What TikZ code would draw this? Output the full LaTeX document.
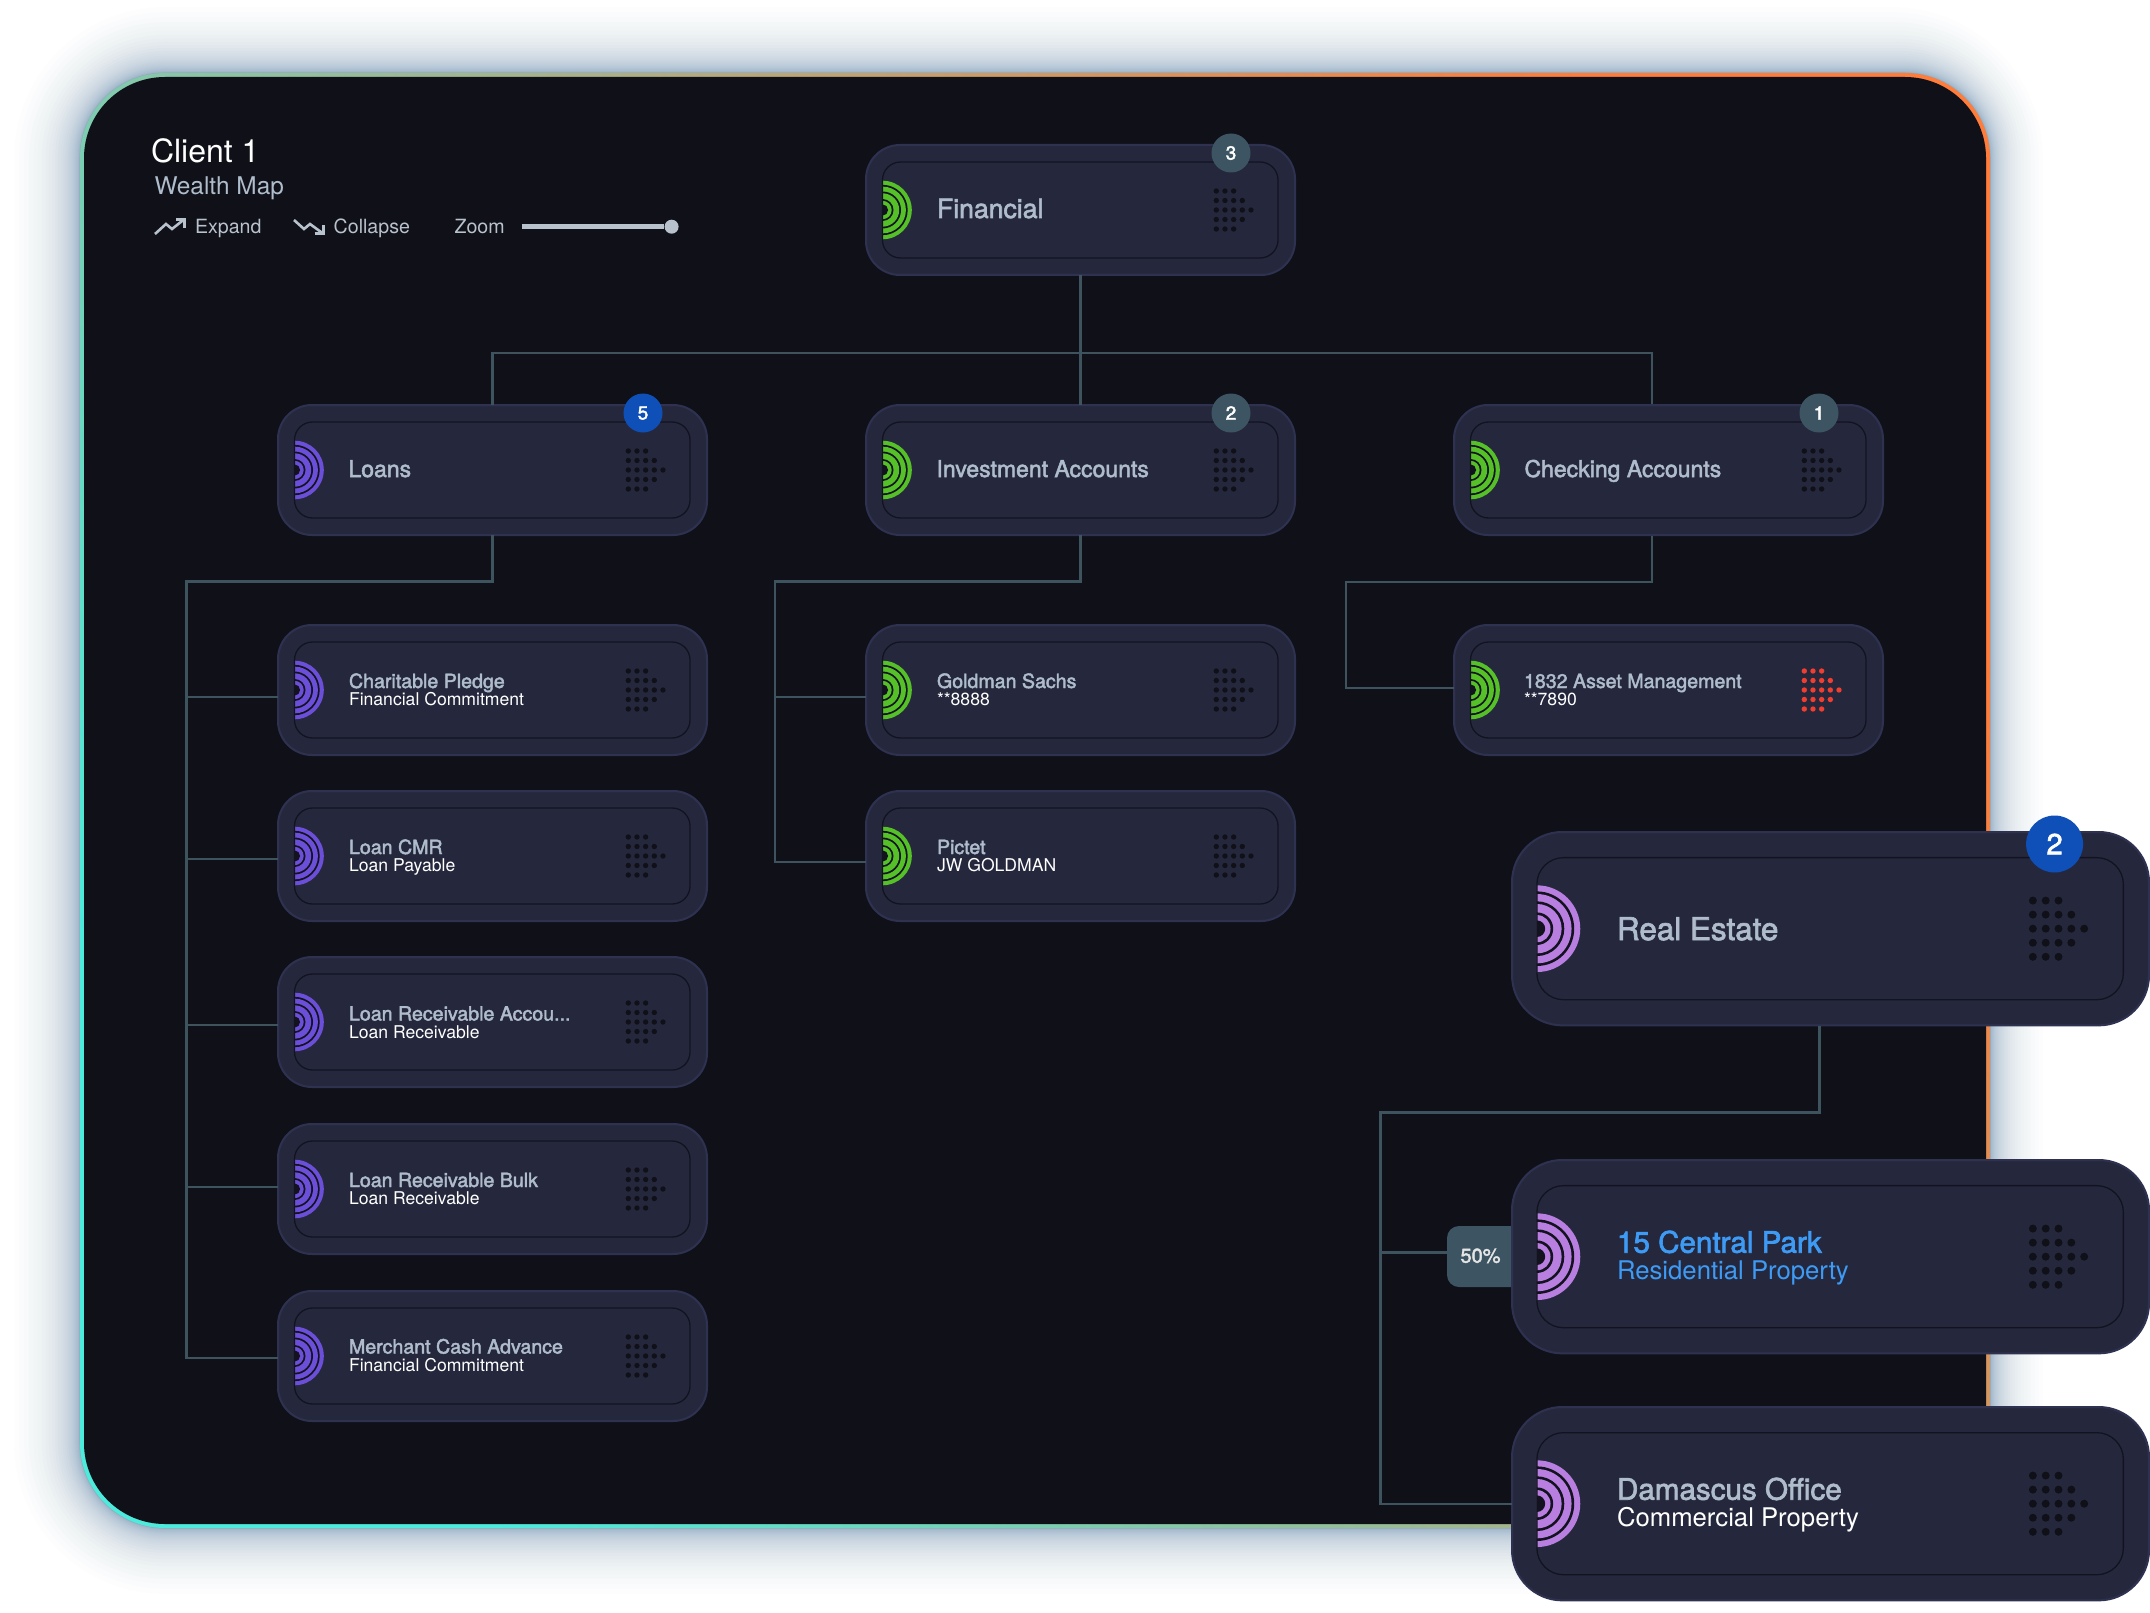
\documentclass[tikz,border=0pt]{standalone}
\usepackage{fontspec}
\setmainfont{TeX Gyre Heros}
\newfontfamily\medfont[FakeBold=2.2]{TeX Gyre Heros}
\usetikzlibrary{calc}
\definecolor{panelbg}{HTML}{0F1018}
\definecolor{cardbg}{HTML}{25283D}
\definecolor{cardedge}{HTML}{2E3250}
\definecolor{innerline}{HTML}{12131F}
\definecolor{linkc}{HTML}{3D535E}
\definecolor{badgec}{HTML}{3D5562}
\definecolor{bluebadge}{HTML}{0F4FB8}
\definecolor{titlec}{HTML}{AEBCCB}
\definecolor{greenc}{HTML}{55C027}
\definecolor{violetc}{HTML}{6B4FD8}
\definecolor{lilacc}{HTML}{B87FE0}
\definecolor{redc}{HTML}{F03E30}
\definecolor{dotc}{HTML}{0F1018}
\definecolor{glowc}{HTML}{6F97B2}
\definecolor{sky}{HTML}{3E9BF5}
\definecolor{greyc}{HTML}{B8C2CC}
\definecolor{borderA}{HTML}{4CEBDC}
\definecolor{borderB}{HTML}{ADB993}
\definecolor{borderC}{HTML}{FF7C3A}
\tikzset{
  x=1pt,y=-1pt,
  link/.style={draw=linkc,line width=2.3pt},
  txt/.style={inner sep=0pt,outer sep=0pt,anchor=base west},
  lonetitle/.style={txt,text=titlec,font=\medfont\fontsize{23}{23}\selectfont},
  lowtitle/.style={txt,text=titlec,font=\medfont\fontsize{19.6}{20}\selectfont},
  lowsub/.style={txt,text=white,font=\fontsize{17.6}{18}\selectfont},
  bigtitle/.style={txt,text=titlec,font=\medfont\fontsize{29.6}{30}\selectfont},
  bigsub/.style={txt,text=white,font=\fontsize{25.7}{26}\selectfont},
  headtool/.style={txt,text=greyc,font=\fontsize{19.6}{20}\selectfont},
  toolicon/.style={draw=greyc,line width=2.6pt,line join=miter},
  badgesmall/.style={circle,fill=#1,minimum size=39pt,inner sep=0pt,text=white,font=\medfont\fontsize{19}{19}\selectfont},
  badgebig/.style={circle,fill=#1,minimum size=57pt,inner sep=0pt,text=white,font=\medfont\fontsize{29}{29}\selectfont},
}
% \card{name}{left}{top}{width}{scale}{icon colour}{dot colour}
\newcommand{\card}[7]{%
  \node[draw=cardedge,line width=2pt,fill=cardbg,rounded corners=#5*34pt,outer sep=0pt,
    minimum width=#4pt-2pt,minimum height=#5*132pt-2pt,inner sep=0pt,anchor=north west]
    (#1) at (#2+1,#3+1) {};
  \begin{scope}[shift={(#2,#3)}]
    \begin{scope}
      \clip (#5*17.5,#5*20) rectangle (#5*60,#5*112);
      \foreach \r/\c in {29.3/#6,25.2/innerline,23.4/#6,18.5/innerline,16.7/#6,11/innerline,9.2/#6,5.6/innerline}{
        \fill[\c] (#5*17.5,#5*66) circle[radius=#5*\r];
      }
    \end{scope}
    \draw[innerline,line width=1.3pt,rounded corners=#5*18pt]
      (#5*17.5,#5*18) rectangle (#4-#5*18,#5*114);
    \begin{scope}[xshift=#5*4pt-4pt,scale=#5]
      \foreach \i/\j in {0/-2,1/-2,2/-2,0/-1,1/-1,2/-1,3/-1,0/0,1/0,2/0,3/0,4/0,0/1,1/1,2/1,3/1,0/2,1/2,2/2}{
        \fill[#7] (351.3+8.67*\i,66+9.5*\j) circle[radius=2.7];
      }
    \end{scope}
  \end{scope}
}
\begin{document}
\begin{tikzpicture}
\useasboundingbox (0,0) rectangle (2150,1613);
\fill[white] (0,0) rectangle (2150,1613);
% glow
\foreach \i in {36,35,...,1}{
  \pgfmathsetmacro{\d}{66*(\i/36)*(\i/36)*(\i/36)}
  \pgfmathsetmacro{\rr}{85+\d}
  \pgfmathsetmacro{\op}{0.065-0.052*\i/36}
  \fill[glowc,fill opacity=\op,rounded corners=\rr pt]
    (80-\d,73-\d) rectangle (1990+0.8*\d,1528+\d);
}
% panel with gradient border
\shade[left color=borderA, middle color=borderB, right color=borderC, shading angle=125,rounded corners=85pt] (80,73) rectangle (1990,1528);
\fill[panelbg,rounded corners=81pt] (84,77) rectangle (1986,1524);
% header
\node[txt,text=white,font=\fontsize{32}{32}\selectfont] (client) at (151,163) {Client 1};
\node[txt,text=titlec,font=\fontsize{24.4}{24}\selectfont] (wealth) at (154.6,195) {Wealth Map};
\draw[toolicon] (155,234) -- (166,224) -- (172,229) -- (184,219.5);
\draw[toolicon] (176,219.5) -- (184.5,219.5) -- (184.5,228);
\node[headtool] (expand) at (195,233.5) {Expand};
\draw[toolicon] (294,220) -- (304,229) -- (310,224) -- (323,233.5);
\draw[toolicon] (314.5,233.5) -- (323.5,233.5) -- (323.5,225);
\node[headtool] (collapse) at (333.7,233.5) {Collapse};
\node[headtool] (zoom) at (454.6,233.5) {Zoom};
\node[circle,fill=greyc,minimum size=14pt,inner sep=0pt] (knob) at (671.6,226.7) {};
\coordinate (slidestart) at (522,226.7);
\draw[draw=greyc,line width=5pt] (slidestart) -- (knob);
% cards
\card{fin}{865}{144}{431}{1}{greenc}{dotc}
\card{loans}{277}{404}{431}{1}{violetc}{dotc}
\card{inv}{865}{404}{431}{1}{greenc}{dotc}
\card{chk}{1453}{404}{431}{1}{greenc}{dotc}
\card{pledge}{277}{624}{431}{1}{violetc}{dotc}
\card{cmr}{277}{790}{431}{1}{violetc}{dotc}
\card{recacc}{277}{956}{431}{1}{violetc}{dotc}
\card{recbulk}{277}{1123}{431}{1}{violetc}{dotc}
\card{merchant}{277}{1290}{431}{1}{violetc}{dotc}
\card{gold}{865}{624}{431}{1}{greenc}{dotc}
\card{pictet}{865}{790}{431}{1}{greenc}{dotc}
\card{asset}{1453}{624}{431}{1}{greenc}{redc}
% connectors
\coordinate (busA) at (1080.5,353);
\coordinate (chkin) at (1652,404);
\coordinate (chkout) at (1652,536);
\coordinate (loansbus) at (186.5,581.5);
\coordinate (invbus) at (775,581.5);
\coordinate (chkbus) at (1346,582);
\coordinate (rebus) at (1380.5,1112.5);
\coordinate (reout) at (1819.5,1026);
\draw[link] (fin.south) -- (inv.north);
\draw[link] (loans.north) |- (busA) -| (chkin);
\draw[link] (loans.south) |- (loansbus) |- ($(merchant.west)+(0,2)$);
\draw[link] (loansbus |- pledge.west) ++(0,7) -- ($(pledge.west)+(0,7)$);
\draw[link] (loansbus |- cmr.west) ++(0,3) -- ($(cmr.west)+(0,3)$);
\draw[link] (loansbus |- recacc.west) ++(0,3) -- ($(recacc.west)+(0,3)$);
\draw[link] (loansbus |- recbulk.west) ++(0,-2) -- ($(recbulk.west)+(0,-2)$);
\draw[link] (inv.south) |- (invbus) |- ($(pictet.west)+(0,6)$);
\draw[link] (invbus |- gold.west) ++(0,7) -- ($(gold.west)+(0,7)$);
\draw[link] (chkout) |- (chkbus) |- ($(asset.west)+(0,-2)$);
% big cards
\card{re}{1511}{831}{639}{1.48}{lilacc}{dotc}
\node[fill=badgec,inner sep=0pt,outer sep=0pt,rounded corners=12pt,minimum height=61pt,minimum width=90pt,anchor=west] (tag) at (1447,1256.5) {};
\card{park}{1511}{1159}{639}{1.48}{lilacc}{dotc}
\card{dam}{1511}{1406}{639}{1.48}{lilacc}{dotc}
\draw[link] (reout) |- (rebus) |- (dam.west);
\draw[link] (rebus |- tag.west) ++(0,-4) -- ($(tag.west)+(0,-4)$);
\node[txt,text=white!90!black,font=\medfont\fontsize{20}{20}\selectfont] (pct) at (1460.5,1262.7) {50\%};
% badges
\node[badgesmall=badgec] (b1) at (1231,153) {3};
\node[badgesmall=bluebadge] (b2) at (643,413) {5};
\node[badgesmall=badgec] (b3) at (1231,413) {2};
\node[badgesmall=badgec] (b4) at (1819,413) {1};
\node[badgebig=bluebadge] (b5) at (2054.6,844) {2};
% texts
\node[txt,text=titlec,font=\medfont\fontsize{26.6}{27}\selectfont] (tfin) at (937,218) {Financial};
\node[lonetitle] (tloans) at (348.5,477) {Loans};
\node[lonetitle] (tinv) at (936.5,477) {Investment Accounts};
\node[lonetitle] (tchk) at (1524.5,477) {Checking Accounts};
\node[lowtitle] (t1) at (349,688) {Charitable Pledge};
\node[lowsub] (s1) at (349,705.7) {Financial Commitment};
\node[lowtitle] (t2) at (349,854) {Loan CMR};
\node[lowsub] (s2) at (349,871.7) {Loan Payable};
\node[lowtitle] (t3) at (349,1020.5) {Loan Receivable Accou...};
\node[lowsub] (s3) at (349,1038) {Loan Receivable};
\node[lowtitle] (t4) at (349,1187) {Loan Receivable Bulk};
\node[lowsub] (s4) at (349,1204.7) {Loan Receivable};
\node[lowtitle] (t5) at (349,1353.5) {Merchant Cash Advance};
\node[lowsub] (s5) at (349,1371.5) {Financial Commitment};
\node[lowtitle] (t6) at (937,688) {Goldman Sachs};
\node[lowsub] (s6) at (937,705.7) {**8888};
\node[lowtitle] (t7) at (937,854) {Pictet};
\node[lowsub] (s7) at (937,871.7) {JW GOLDMAN};
\node[lowtitle] (t8) at (1524,688) {1832 Asset Management};
\node[lowsub] (s8) at (1524,705.7) {**7890};
\node[bigtitle,font=\medfont\fontsize{31.4}{32}\selectfont] (tre) at (1617,940) {Real Estate};
\node[bigtitle,text=sky] (tpark) at (1617,1252.7) {15 Central Park};
\node[bigsub,text=sky] (spark) at (1617,1279) {Residential Property};
\node[bigtitle] (tdam) at (1617,1499.7) {Damascus Office};
\node[bigsub] (sdam) at (1617,1526) {Commercial Property};
\end{tikzpicture}
\end{document}
